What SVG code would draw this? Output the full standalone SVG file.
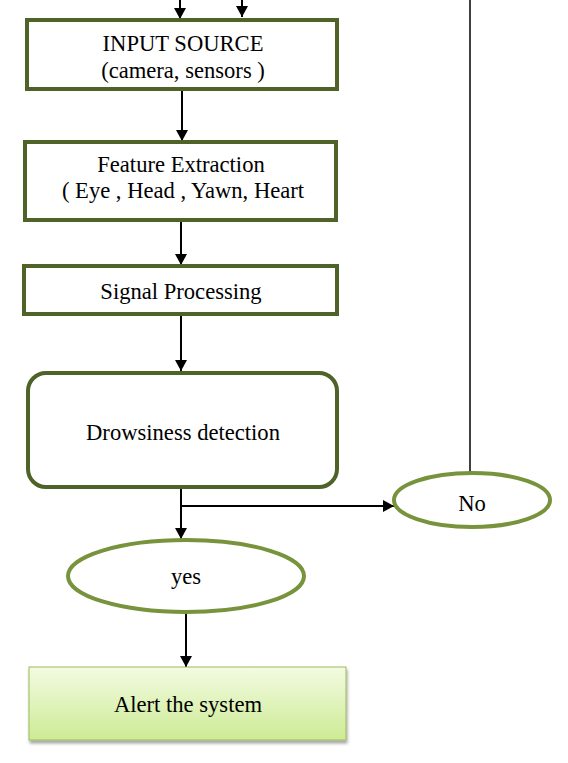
<svg xmlns="http://www.w3.org/2000/svg" width="568" height="763" viewBox="0 0 568 763">
<defs>
<style>
.box{fill:#fff;stroke:#4f6228;stroke-width:4}
.ell{fill:#fff;stroke:#77933c;stroke-width:4}
.t{font-family:"Liberation Serif","Times New Roman",serif;font-size:22.6px;fill:#000;text-anchor:middle}
.c{stroke:#000;stroke-width:2;fill:none}
.thin{stroke:#000;stroke-width:1.5;fill:none}
</style>
<marker id="ah" markerWidth="11" markerHeight="12" viewBox="0 0 11 12" refX="11" refY="6" orient="auto" markerUnits="userSpaceOnUse">
<path d="M0,0 L11,6 L0,12 z" fill="#000"/>
</marker>
<linearGradient id="g" x1="0" y1="0" x2="0" y2="1">
<stop offset="0" stop-color="#f3fbe2"/>
<stop offset="1" stop-color="#cdeb94"/>
</linearGradient>
<filter id="sh" x="-5%" y="-5%" width="112%" height="120%">
<feDropShadow dx="1" dy="3" stdDeviation="1.5" flood-color="#000" flood-opacity="0.35"/>
</filter>
</defs>
<g id="connectors">
<line class="c" x1="180" y1="0" x2="180" y2="19" marker-end="url(#ah)"/>
<line class="c" x1="242" y1="0" x2="242" y2="17" marker-end="url(#ah)"/>
<line class="c" x1="182" y1="90" x2="182" y2="141" marker-end="url(#ah)"/>
<line class="c" x1="181" y1="221" x2="181" y2="265" marker-end="url(#ah)"/>
<line class="c" x1="181" y1="315" x2="181" y2="371" marker-end="url(#ah)"/>
<line class="c" x1="181" y1="488" x2="181" y2="539" marker-end="url(#ah)"/>
<line class="c" x1="181" y1="506" x2="394" y2="506" marker-end="url(#ah)"/>
<line class="thin" x1="470" y1="0" x2="470" y2="473"/>
<line class="c" x1="186" y1="612" x2="186" y2="667" marker-end="url(#ah)"/>
</g>
<g id="input">
<rect class="box" x="27" y="20" width="310" height="69"/>
<text class="t" x="183" y="51">INPUT SOURCE</text>
<text class="t" x="183" y="78">(camera, sensors )</text>
</g>
<g id="feature">
<rect class="box" x="25" y="142" width="311" height="78"/>
<text class="t" x="181" y="172">Feature Extraction</text>
<text class="t" x="183" y="198">( Eye , Head , Yawn, Heart</text>
</g>
<g id="signal">
<rect class="box" x="24" y="266" width="313" height="48"/>
<text class="t" x="181" y="299">Signal Processing</text>
</g>
<g id="drowsiness">
<rect class="box" x="28" y="373" width="309" height="114" rx="18" ry="18"/>
<text class="t" x="183" y="440">Drowsiness detection</text>
</g>
<g id="no">
<ellipse class="ell" cx="472" cy="500" rx="78" ry="27"/>
<text class="t" x="472" y="511">No</text>
</g>
<g id="yes">
<ellipse class="ell" cx="186" cy="576" rx="118" ry="36"/>
<text class="t" x="186" y="584">yes</text>
</g>
<g id="alert">
<rect x="29" y="667" width="317" height="73" fill="url(#g)" stroke="#9bbb59" stroke-width="1" filter="url(#sh)"/>
<text class="t" x="188" y="712">Alert the system</text>
</g>
</svg>
